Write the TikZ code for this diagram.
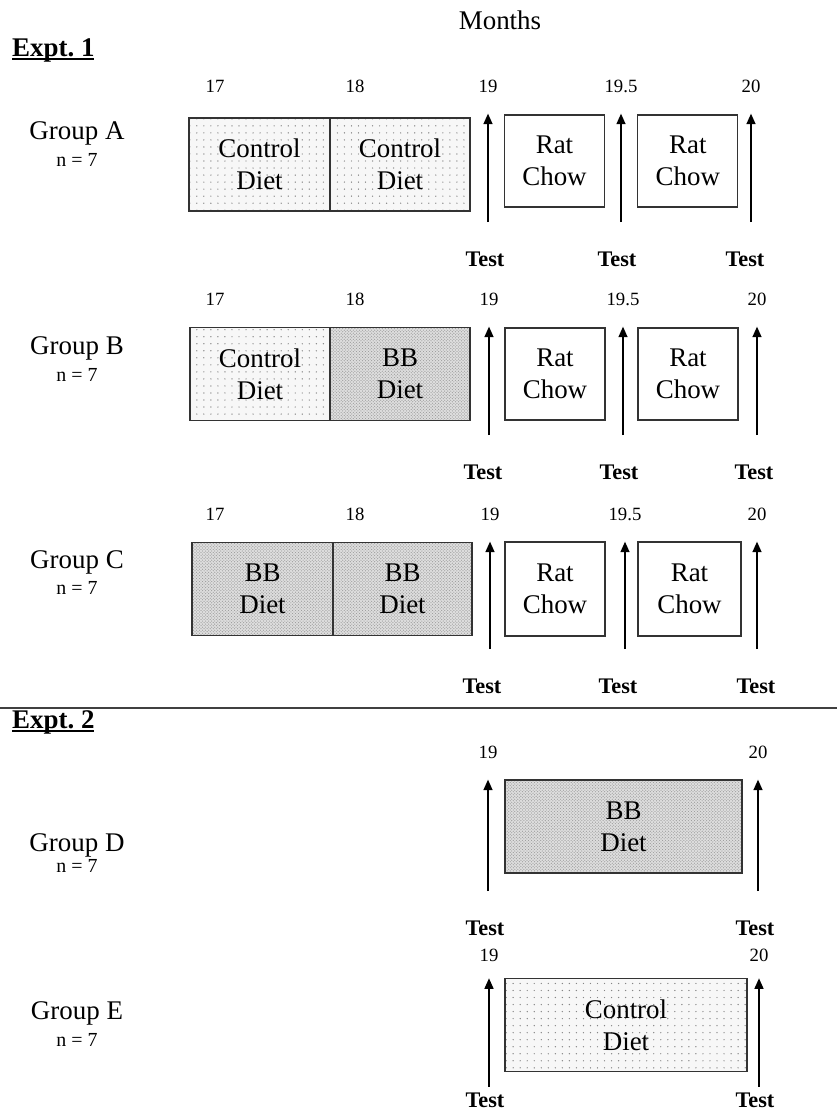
\documentclass[tikz,border=0pt]{standalone}
\usepackage{fontspec}
\setmainfont{Liberation Serif}
\usepackage{tikz}
\usetikzlibrary{positioning, arrows.meta, patterns}
\pgfdeclarepatternformonly{sparse dots}{\pgfqpoint{-1pt}{-1pt}}{\pgfqpoint{1pt}{1pt}}{\pgfqpoint{6pt}{6pt}}{%
  \pgfpathcircle{\pgfqpoint{0pt}{0pt}}{0.6pt}\pgfusepath{fill}}
\pgfdeclarepatternformonly{dense dots}{\pgfqpoint{-0.6pt}{-0.6pt}}{\pgfqpoint{1.9pt}{1.9pt}}{\pgfqpoint{2.6pt}{2.6pt}}{%
  \pgfpathcircle{\pgfqpoint{0pt}{0pt}}{0.55pt}\pgfpathcircle{\pgfqpoint{1.3pt}{1.3pt}}{0.55pt}\pgfusepath{fill}}
\newcommand{\thickul}[1]{\setbox0\hbox{#1}\rlap{\rule[-3.5pt]{\wd0}{1.5pt}}\box0}

\begin{document}
\begin{tikzpicture}[x=0.03cm, y=-0.03cm, >={Triangle[length=9pt, width=7.5pt]},
  diet/.style={draw=black!80, line width=1.1pt, outer sep=0pt, align=center,
    minimum height=2.79cm, font=\fontsize{23}{27}\selectfont},
  ctrl/.style={diet, preaction={fill=gray!6}, pattern=sparse dots, pattern color=gray!95},
  bbd/.style={diet, preaction={fill=gray!25}, pattern=dense dots, pattern color=gray!75},
  chow/.style={diet, fill=white, minimum width=3cm, minimum height=2.76cm},
  grp/.style={font=\fontsize{23}{26}\selectfont},
  expt/.style={anchor=west, font=\fontsize{23}{26}\selectfont\bfseries},
  nsize/.style={font=\fontsize{17}{20}\selectfont},
  num/.style={inner sep=0pt, font=\fontsize{16}{18}\selectfont},
  test/.style={inner sep=0pt, font=\fontsize{19}{22}\selectfont\bfseries},
  testarrow/.style={->, line width=1.6pt, shorten <=0.88cm, shorten >=0.63cm}]
  \useasboundingbox (0,0) rectangle (837,1110);

  \node[grp] (months) at (500,20) {Months};
  \node[expt] (ex1) at (8,50) {\thickul{Expt.~1}};

  % Group A
  \node[grp] (gA) at (77,133) {Group A};
  \node[nsize] (nA) at (77,160) {n = 7};
  \node[num] (mA0) at (215,86) {17};
  \node[num] (mA00) at (355,86) {18};
  \node[num] (mA1) at (488,86) {19};
  \node[num] (mA2) at (621,86) {19.5};
  \node[num] (mA3) at (751,86) {20};
  \node[ctrl, minimum width=4.23cm] (dA1) at (259.5,164.5) {Control\\Diet};
  \node[ctrl, minimum width=4.2cm, right=0pt of dA1] (dA2) {Control\\Diet};
  \node[chow] (cA1) at (554.5,161) {Rat\\Chow};
  \node[chow, right=1cm of cA1] (cA2) {Rat\\Chow};
  \node[test] (tA1) at (485,259) {Test};
  \node[test] (tA2) at (617,259) {Test};
  \node[test] (tA3) at (745,259) {Test};
  \draw[testarrow] (mA1 |- tA1.north) -- (mA1);
  \draw[testarrow] (mA2 |- tA2.north) -- (mA2);
  \draw[testarrow] (mA3 |- tA3.north) -- (mA3);

  % Group B
  \node[grp] (gB) at (77,348) {Group B};
  \node[nsize] (nB) at (77,375) {n = 7};
  \node[num] (mB0) at (215,299) {17};
  \node[num] (mB00) at (355,299) {18};
  \node[num] (mB1) at (489,299) {19};
  \node[num] (mB2) at (623,299) {19.5};
  \node[num] (mB3) at (757,299) {20};
  \node[ctrl, minimum width=4.2cm] (dB1) at (260,374) {Control\\Diet};
  \node[bbd, minimum width=4.2cm, right=0pt of dB1] (dB2) {BB\\Diet};
  \node[chow] (cB1) at (555,374) {Rat\\Chow};
  \node[chow, right=0.99cm of cB1] (cB2) {Rat\\Chow};
  \node[test] (tB1) at (483,472) {Test};
  \node[test] (tB2) at (619,472) {Test};
  \node[test] (tB3) at (754,472) {Test};
  \draw[testarrow] (mB1 |- tB1.north) -- (mB1);
  \draw[testarrow] (mB2 |- tB2.north) -- (mB2);
  \draw[testarrow] (mB3 |- tB3.north) -- (mB3);

  % Group C
  \node[grp] (gC) at (77,562) {Group C};
  \node[nsize] (nC) at (77,588) {n = 7};
  \node[num] (mC0) at (215,514) {17};
  \node[num] (mC00) at (355,514) {18};
  \node[num] (mC1) at (490,514) {19};
  \node[num] (mC2) at (625,514) {19.5};
  \node[num] (mC3) at (757,514) {20};
  \node[bbd, minimum width=4.23cm] (dC1) at (262.5,589) {BB\\Diet};
  \node[bbd, minimum width=4.17cm, right=0pt of dC1] (dC2) {BB\\Diet};
  \node[chow, minimum height=2.82cm] (cC1) at (555,589) {Rat\\Chow};
  \node[chow, minimum width=3.09cm, minimum height=2.82cm, right=0.99cm of cC1] (cC2) {Rat\\Chow};
  \node[test] (tC1) at (482,686) {Test};
  \node[test] (tC2) at (618,686) {Test};
  \node[test] (tC3) at (756,686) {Test};
  \draw[testarrow] (mC1 |- tC1.north) -- (mC1);
  \draw[testarrow] (mC2 |- tC2.north) -- (mC2);
  \draw[testarrow] (mC3 |- tC3.north) -- (mC3);

  \draw[line width=1.4pt, black!75] (0,708) -- (837,708);
  \node[expt] (ex2) at (8,722) {\thickul{Expt.~2}};

  % Group D
  \node[grp] (gD) at (77,845) {Group D};
  \node[nsize] (nD) at (77,866) {n = 7};
  \node[num] (mD1) at (488,752) {19};
  \node[num] (mD3) at (758,752) {20};
  \node[bbd, minimum width=7.11cm] (dD) at (623.5,826.5) {BB\\Diet};
  \node[test] (tD1) at (485,928) {Test};
  \node[test] (tD3) at (755,928) {Test};
  \draw[testarrow] (mD1 |- tD1.north) -- (mD1);
  \draw[testarrow] (mD3 |- tD3.north) -- (mD3);

  % Group E
  \node[grp] (gE) at (77,1013) {Group E};
  \node[nsize] (nE) at (77,1040) {n = 7};
  \node[num] (mE1) at (489,955) {19};
  \node[num] (mE3) at (759,955) {20};
  \node[ctrl, minimum width=7.26cm] (dE) at (626,1025) {Control\\Diet};
  \node[test] (tE1) at (485,1100) {Test};
  \node[test] (tE3) at (755,1100) {Test};
  \draw[testarrow, shorten <=0.17cm, shorten >=0.5cm] (mE1 |- tE1.north) -- (mE1);
  \draw[testarrow, shorten <=0.17cm, shorten >=0.5cm] (mE3 |- tE3.north) -- (mE3);
\end{tikzpicture}
\end{document}
